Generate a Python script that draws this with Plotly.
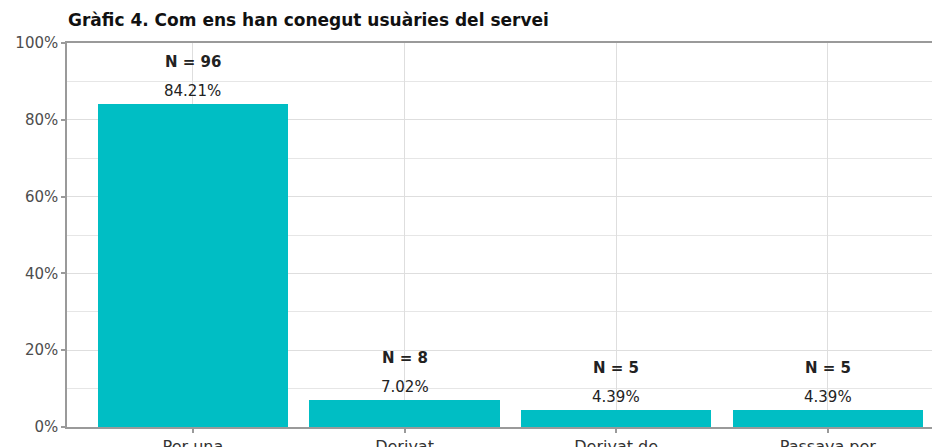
import plotly.graph_objects as go

categories = ["Per una", "Derivat", "Derivat de", "Passava per"]
counts = [96, 8, 5, 5]
percentages = [84.21, 7.02, 4.39, 4.39]
y_ticks = [0, 20, 40, 60, 80, 100]
y_tick_labels = ["0%", "20%", "40%", "60%", "80%", "100%"]
title_text = "Gràfic 4. Com ens han conegut usuàries del servei"

FONT = "DejaVu Sans, Liberation Sans, Arial, sans-serif"
xs = list(range(len(categories)))

# page body has an 8px default margin; the figure is sized to fill the rest of the window
W, H = 932, 439

fig = go.Figure()
fig.add_trace(go.Bar(
    x=xs, y=percentages, width=0.9,
    marker=dict(color="#00BEC4", line=dict(width=0)),
    hoverinfo="skip",
))

for x, n, p in zip(xs, counts, percentages):
    fig.add_annotation(x=x, y=p, xref="x", yref="y", text=f"{p:.2f}%",
                       showarrow=False, yshift=13, yanchor="middle",
                       font=dict(family=FONT, size=15, color="#222222"))
    fig.add_annotation(x=x, y=p, xref="x", yref="y", text=f"<b>N = {n}</b>",
                       showarrow=False, yshift=42, yanchor="middle",
                       font=dict(family=FONT, size=15, color="#222222"))

fig.update_layout(
    width=W, height=H,
    margin=dict(l=59, r=0, t=35, b=20, autoexpand=False),
    paper_bgcolor="white", plot_bgcolor="white",
    showlegend=False,
    bargap=0,
    title=dict(text=f"<b>{title_text}</b>", xref="container", x=60/W, xanchor="left",
               yref="container", y=1-12/H, yanchor="middle",
               font=dict(family=FONT, size=17, color="#111111")),
    xaxis=dict(
        tickmode="array", tickvals=xs, ticktext=categories,
        range=[-0.595, 3.53], automargin=False,
        showgrid=True, gridcolor="#DEDEDE", gridwidth=1,
        showline=True, linecolor="#9A9A9A", linewidth=2, mirror=True,
        ticks="outside", ticklen=4, tickcolor="#9A9A9A", tickwidth=1.5,
        tickfont=dict(family=FONT, size=16, color="#333333"),
        zeroline=False,
    ),
    yaxis=dict(
        range=[0, 100], tickmode="array", tickvals=y_ticks, ticktext=y_tick_labels,
        automargin=False,
        showgrid=True, gridcolor="#DEDEDE", gridwidth=1,
        minor=dict(dtick=10, showgrid=True, gridcolor="#E6E6E6", gridwidth=1),
        showline=True, linecolor="#9A9A9A", linewidth=1.5,
        ticks="outside", ticklen=4, tickcolor="#9A9A9A", tickwidth=1.5,
        tickfont=dict(family=FONT, size=15, color="#4D4D4D"),
        zeroline=False,
    ),
)

fig.write_html("out.html")
